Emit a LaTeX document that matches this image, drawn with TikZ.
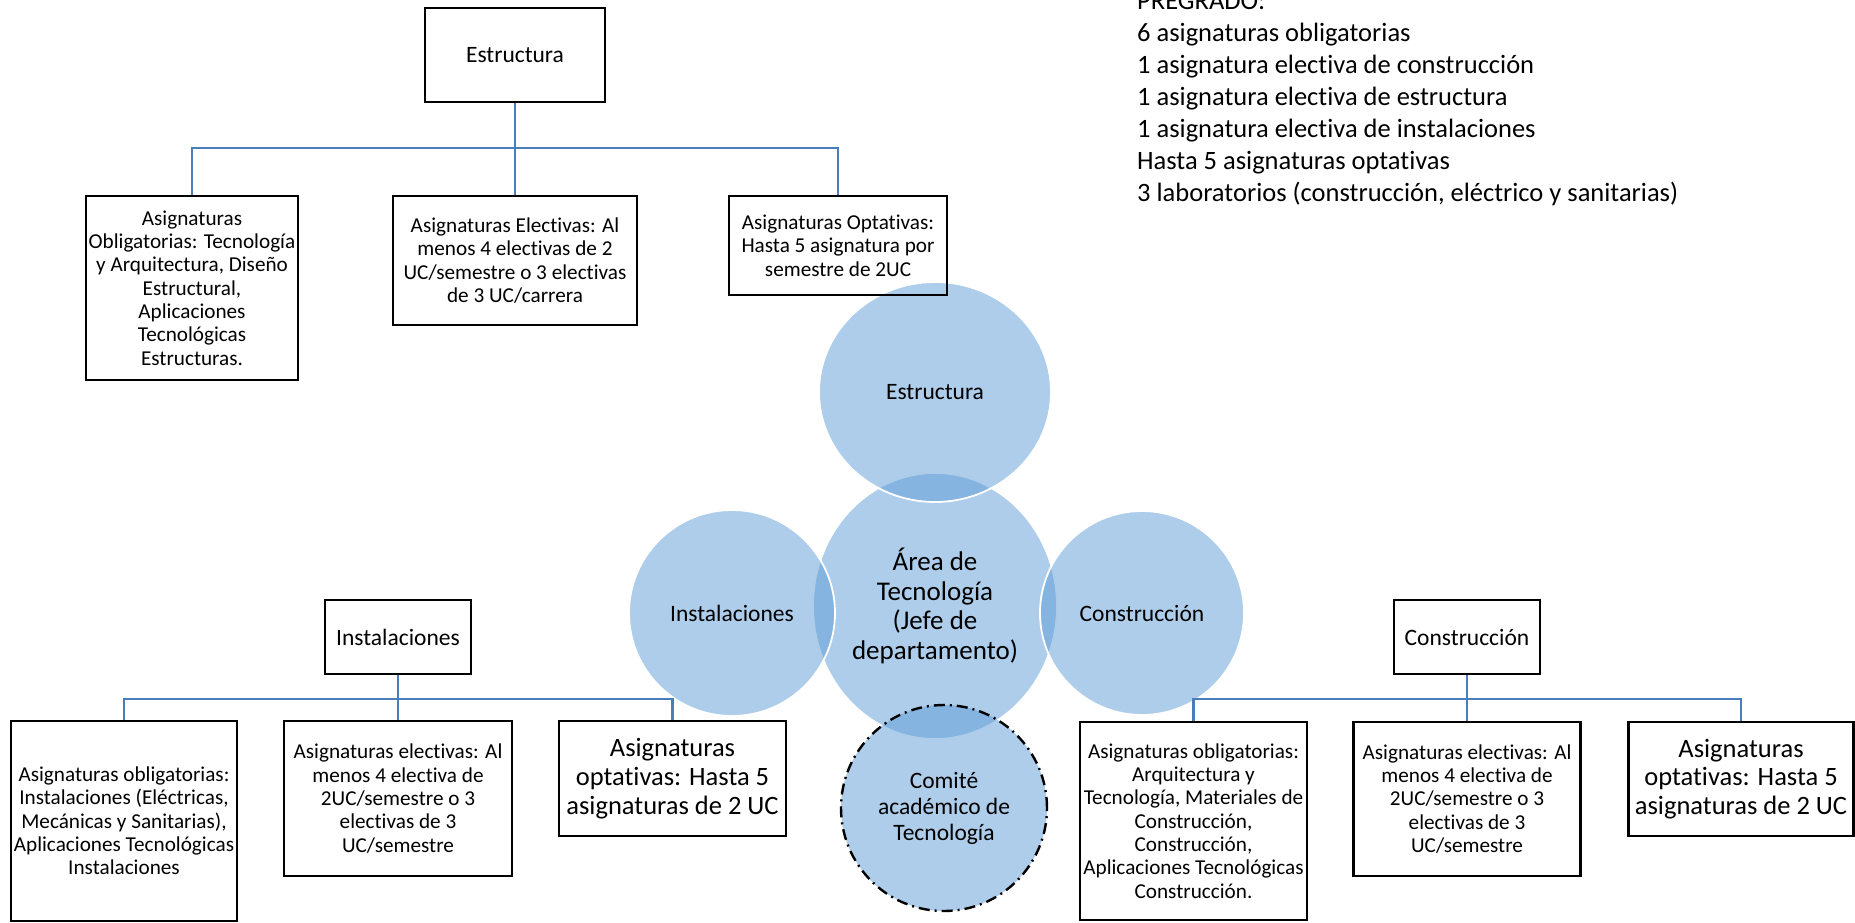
\documentclass[tikz,border=0pt]{standalone}
\usepackage{fontspec}
\setmainfont[Ligatures=NoCommon]{Carlito}
\usetikzlibrary{positioning,shapes.geometric}

\definecolor{linkblue}{RGB}{74,126,187}
\definecolor{vennblue}{RGB}{91,155,213}
\newcommand{\fs}[2]{\fontsize{#1}{#2}\selectfont}

\begin{document}
\begin{tikzpicture}[
  x=1pt, y=-1pt,
  box/.style={draw, line width=2.6pt, inner sep=0pt, align=center, font=\fs{21.2}{23.3}},
  headbox/.style={box, font=\fs{23.5}{26}},
  bigbox/.style={box, font=\fs{26.5}{28.7}},
  link/.style={draw=linkblue, line width=2.2pt},
  venn/.style={circle, fill=vennblue, fill opacity=0.5, text opacity=1, draw=white, line width=1.8pt,
    inner sep=0pt, align=center, font=\fs{23.5}{26}}
]
\useasboundingbox (0,0) rectangle (1855,923);

% circulos del area
\node[venn, ellipse, minimum width=244, minimum height=266, font=\fs{27}{29.6}] (area) at (935,606)
  {Área de\\Tecnología\\(Jefe de\\departamento)};
\node[venn, ellipse, minimum width=232, minimum height=220] (cest) at (935,392) {Estructura};
\node[venn, minimum size=206] (cins) at (732,613) {Instalaciones};
\node[venn, minimum size=204] (ccon) at (1142,613) {Construcción};
\node[venn, minimum size=206, draw=black, line width=2.4pt,
  dash pattern=on 11pt off 5pt on 2pt off 5pt] (ccom) at (944,808) {Comité\\académico de\\Tecnología};

% Estructura
\node[headbox, minimum width=180, minimum height=94] (estbox) at (515,55) {Estructura};
\node[box, minimum width=212, minimum height=184] (ea) at (192,288)
  {Asignaturas\\Obligatorias: Tecnología\\y Arquitectura, Diseño\\Estructural,\\Aplicaciones\\Tecnológicas\\Estructuras.};
\node[box, minimum width=244, minimum height=129] (eb) at (515,260.5)
  {Asignaturas Electivas: Al\\menos 4 electivas de 2\\UC/semestre o 3 electivas\\de 3 UC/carrera};
\node[box, minimum width=218, minimum height=99] (ec) at (838,245.5)
  {Asignaturas Optativas:\\Hasta 5 asignatura por\\semestre de 2UC};
\coordinate (ebus) at (515,148);
\draw[link] (estbox.south) -- (eb.north);
\draw[link] (ea.north) |- (ebus) -| (ec.north);

% Instalaciones
\node[headbox, minimum width=146, minimum height=74] (ibox) at (398,637) {Instalaciones};
\node[box, minimum width=226, minimum height=200] (i1) at (124,821)
  {Asignaturas obligatorias:\\Instalaciones (Eléctricas,\\Mecánicas y Sanitarias),\\Aplicaciones Tecnológicas\\Instalaciones};
\node[box, minimum width=228, minimum height=155] (i2) at (398,798.5)
  {Asignaturas electivas: Al\\menos 4 electiva de\\2UC/semestre o 3\\electivas de 3\\UC/semestre};
\node[bigbox, minimum width=227, minimum height=115] (i3) at (672.5,778.5)
  {Asignaturas\\optativas: Hasta 5\\asignaturas de 2 UC};
\coordinate (ibus) at (398,699);
\draw[link] (ibox.south) -- (i2.north);
\draw[link] (i1.north) |- (ibus) -| (i3.north);

% Construccion
\node[headbox, minimum width=146, minimum height=74] (cbox) at (1467,637) {Construcción};
\node[box, minimum width=227, minimum height=198] (c1) at (1193.5,821)
  {Asignaturas obligatorias:\\Arquitectura y\\Tecnología, Materiales de\\Construcción,\\Construcción,\\Aplicaciones Tecnológicas\\Construcción.};
\node[box, minimum width=227, minimum height=154] (c2) at (1467,799)
  {Asignaturas electivas: Al\\menos 4 electiva de\\2UC/semestre o 3\\electivas de 3\\UC/semestre};
\node[bigbox, minimum width=225, minimum height=114] (c3) at (1741,779)
  {Asignaturas\\optativas: Hasta 5\\asignaturas de 2 UC};
\coordinate (cbus) at (1467,699);
\draw[link] (cbox.south) -- (c2.north);
\draw[link] (c1.north) |- (cbus) -| (c3.north);

% resumen de pregrado
\node[anchor=north west, align=left, inner sep=0pt, font=\fs{26.5}{32}] (pregrado) at (1137,-8)
  {PREGRADO:\\6 asignaturas obligatorias\\1 asignatura electiva de construcción\\1 asignatura electiva de estructura\\1 asignatura electiva de instalaciones\\Hasta 5 asignaturas optativas\\3 laboratorios (construcción, eléctrico y sanitarias)};
\end{tikzpicture}
\end{document}
